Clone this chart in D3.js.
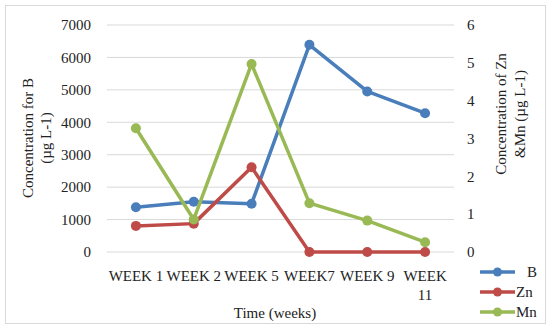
<!DOCTYPE html>
<html><head><meta charset="utf-8">
<script src="https://cdn.jsdelivr.net/npm/d3@7"></script>
<style>body{margin:0;background:#fff}svg{display:block}text{font-family:"Liberation Serif","Times New Roman",serif;fill:#222}</style>
</head><body><svg id="c" width="550" height="329"></svg>
<script>
const categories = ["WEEK 1","WEEK 2","WEEK 5","WEEK7","WEEK 9","WEEK 11"];
const B  = [1380, 1550, 1490, 6390, 4950, 4280];
const Zn = [0.69, 0.75, 2.24, 0, 0, 0];
const Mn = [3.27, 0.86, 4.97, 1.29, 0.83, 0.26];
const leftTicks = [0,1000,2000,3000,4000,5000,6000,7000];
const rightTicks = [0,1,2,3,4,5,6];

const svg = d3.select("#c");
svg.append("rect").attr("x",5.5).attr("y",5.5).attr("width",540).attr("height",318)
  .attr("fill","#fff").attr("stroke","#d9d9d9");

const x = d3.scaleBand().domain(categories).range([107,454]);
const yL = d3.scaleLinear().domain([0,7000]).range([252,25]);
const yR = d3.scaleLinear().domain([0,6]).range([252,25]);
const fs = "15px";

// gridlines
svg.append("g").selectAll("line").data(leftTicks).join("line")
  .attr("x1",107).attr("x2",454).attr("y1",d=>yL(d)).attr("y2",d=>yL(d))
  .attr("stroke","#d9d9d9").attr("stroke-width",1);

// left axis
const gl = svg.append("g").attr("transform","translate(107,0)")
  .call(d3.axisLeft(yL).tickValues(leftTicks).tickSize(0).tickPadding(16).tickFormat(d3.format("d")));
gl.select(".domain").remove();
gl.selectAll("text").style("font-size",fs).attr("font-family",null);

// right axis
const gr = svg.append("g").attr("transform","translate(454,0)")
  .call(d3.axisRight(yR).tickValues(rightTicks).tickSize(0).tickPadding(13).tickFormat(d3.format("d")));
gr.select(".domain").remove();
gr.selectAll("text").style("font-size",fs).attr("font-family",null);

// x axis
const gx = svg.append("g").attr("transform","translate(0,252)")
  .call(d3.axisBottom(x).tickSize(0).tickPadding(18));
gx.select(".domain").remove();
gx.selectAll("text").style("font-size",fs).attr("font-family",null).each(function(d){
  const t = d3.select(this);
  const parts = d.split(" ");
  if (d === "WEEK 11") {
    t.text(null);
    t.append("tspan").attr("x",0).attr("dy","0.71em").text(parts[0]);
    t.append("tspan").attr("x",0).attr("dy","1.3em").text(parts[1]);
    t.attr("dy",null);
  }
});

// axis titles
svg.append("text").attr("x",275).attr("y",318).attr("text-anchor","middle").style("font-size",fs).text("Time (weeks)");
const lt = svg.append("text").attr("transform","translate(33,138) rotate(-90)").attr("text-anchor","middle").style("font-size",fs);
lt.append("tspan").attr("x",0).attr("dy",0).text("Concentration for B");
lt.append("tspan").attr("x",0).attr("dy",18).text("(µg L-1)");
const rt = svg.append("text").attr("transform","translate(506,114) rotate(-90)").attr("text-anchor","middle").style("font-size",fs);
rt.append("tspan").attr("x",0).attr("dy",0).text("Concentration of Zn");
rt.append("tspan").attr("x",0).attr("dy",19).text("&Mn (µg L-1)");

const series = [
  {name:"B", values:B, y:yL, color:"#4a7ebb"},
  {name:"Zn", values:Zn, y:yR, color:"#be4b48"},
  {name:"Mn", values:Mn, y:yR, color:"#98b954"}
];
const cx = d => x(d) + x.bandwidth()/2;
series.forEach(s => {
  const pts = categories.map((c,i)=>[cx(c), s.y(s.values[i])]);
  svg.append("path").attr("d", d3.line()(pts)).attr("fill","none")
    .attr("stroke",s.color).attr("stroke-width",3.5).attr("stroke-linejoin","round");
  svg.append("g").selectAll("circle").data(pts).join("circle")
    .attr("cx",d=>d[0]).attr("cy",d=>d[1]).attr("r",5).attr("fill",s.color);
});

// legend
const lg = svg.append("g");
series.forEach((s,i) => {
  const yy = 272 + i*20;
  lg.append("line").attr("x1",480).attr("x2",515).attr("y1",yy).attr("y2",yy).attr("stroke",s.color).attr("stroke-width",3.5);
  lg.append("circle").attr("cx",497.5).attr("cy",yy).attr("r",4.5).attr("fill",s.color);
  lg.append("text").attr("x",s.name==="B"?527:516).attr("y",yy).attr("dy","0.35em").style("font-size",fs).text(s.name);
});
</script></body></html>
